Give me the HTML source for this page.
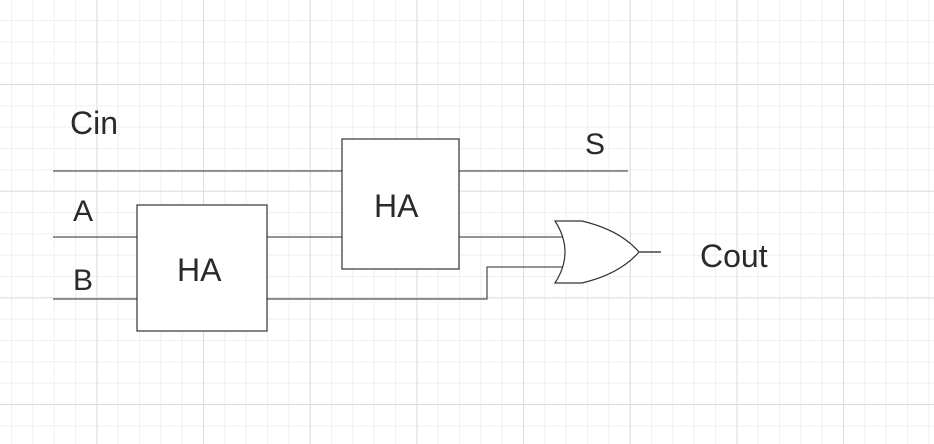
<!DOCTYPE html>
<html><head><style>
html,body{margin:0;padding:0;background:#fff;}
svg{display:block;}
text{font-family:"Liberation Sans",sans-serif;fill:#2a2a2a;}
</style></head><body>
<svg width="934" height="444" xmlns="http://www.w3.org/2000/svg">
<defs>
<pattern id="g" x="11.1" y="-1.3" width="21.333" height="21.333" patternUnits="userSpaceOnUse">
<path d="M0 0.5H21.333M0.5 0V21.333" stroke="#efefef" stroke-width="1" fill="none"/>
</pattern>
<pattern id="G" x="96.4" y="84" width="106.667" height="106.667" patternUnits="userSpaceOnUse">
<path d="M0 0.5H106.667M0.5 0V106.667" stroke="#dcdcdc" stroke-width="1" fill="none"/>
</pattern>
</defs>
<rect width="934" height="444" fill="url(#g)"/>
<rect width="934" height="444" fill="url(#G)"/>
<g stroke="#555" stroke-width="1.3" fill="none">
<path d="M53 171H342M459 171H628"/>
<path d="M53 237H137M267 237H342M459 237H565"/>
<path d="M53 299H137M267 299H487V267H563"/>
<path d="M639 252H661" stroke="#222"/>
</g>
<rect x="137" y="205" width="130" height="126" fill="#fff" stroke="#333" stroke-width="1.2"/>
<rect x="342" y="139" width="117" height="130" fill="#fff" stroke="#333" stroke-width="1.2"/>
<path d="M555 221H582Q620 230 639 252Q620 274 582 283H555Q575 252 555 221Z" fill="#fff" stroke="#333" stroke-width="1.2"/>
<text x="70" y="134" font-size="32">Cin</text>
<text x="585" y="154" font-size="30">S</text>
<text x="73" y="221" font-size="30">A</text>
<text x="73" y="290" font-size="30">B</text>
<text x="177" y="281" font-size="32">HA</text>
<text x="374" y="217" font-size="32">HA</text>
<text x="700" y="267" font-size="32">Cout</text>
</svg>
</body></html>
